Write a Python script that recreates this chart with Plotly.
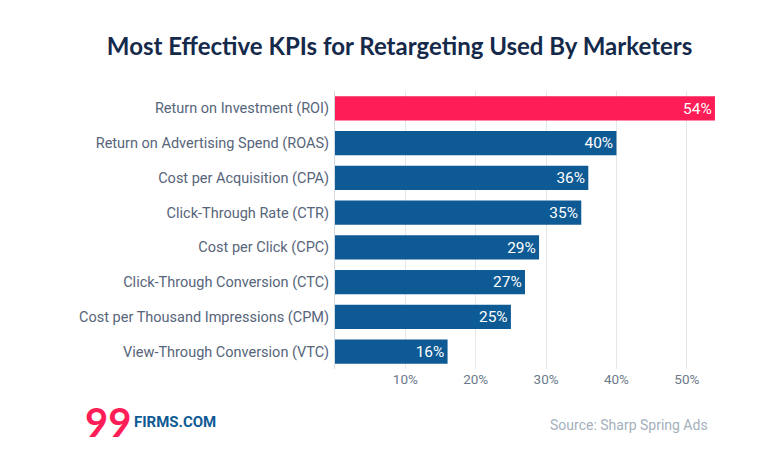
import plotly.graph_objects as go

categories = [
    "Return on Investment (ROI)",
    "Return on Advertising Spend (ROAS)",
    "Cost per Acquisition (CPA)",
    "Click-Through Rate (CTR)",
    "Cost per Click (CPC)",
    "Click-Through Conversion (CTC)",
    "Cost per Thousand Impressions (CPM)",
    "View-Through Conversion (VTC)",
]
values = [54, 40, 36, 35, 29, 27, 25, 16]
tick_vals = [10, 20, 30, 40, 50]
tick_text = ["10%", "20%", "30%", "40%", "50%"]

PINK = "#FF1D58"
BLUE = "#0E5A94"
colors = [PINK if v == max(values) else BLUE for v in values]

fig = go.Figure(go.Bar(
    y=categories,
    x=values,
    orientation="h",
    marker=dict(color=colors, line=dict(width=0)),
    text=[f"{v}%" for v in values],
    textposition="inside",
    insidetextanchor="end",
    textfont=dict(color="white", size=16, family="Roboto"),
    width=0.7,
    cliponaxis=False,
))

fig.update_layout(
    width=753, height=458,
    margin=dict(l=327, r=39, t=83, b=97),
    paper_bgcolor="white", plot_bgcolor="white",
    showlegend=False,
    title=dict(
        text="Most Effective KPIs for Retargeting Used By Marketers",
        x=0.52, xanchor="center", y=0.915, yanchor="middle",
        font=dict(family="Lato", size=24, color="#15294A", weight="bold"),
    ),
    xaxis=dict(
        range=[0, 55], tickvals=tick_vals, ticktext=tick_text,
        showgrid=True, gridcolor="#E3E6EA", gridwidth=1,
        zeroline=False, showline=False, automargin=False,
        tickfont=dict(family="Roboto", size=13.5, color="#6B7A8A"),
        ticks="", ticklabelstandoff=0,
    ),
    yaxis=dict(
        autorange="reversed", categoryorder="array", categoryarray=categories,
        showgrid=False, zeroline=False, automargin=False,
        showline=True, linecolor="#D5DAE0", linewidth=1,
        tickfont=dict(family="Roboto", size=14.5, color="#56657A"),
        ticks="", ticklabelstandoff=2,
    ),
    uniformtext=dict(mode=False),
)

fig.add_annotation(
    text="<b>99</b>", xref="paper", yref="paper", x=-0.65, y=-0.19,
    xanchor="left", yanchor="middle", showarrow=False,
    font=dict(family="Lato", size=40, color=PINK),
)
fig.add_annotation(
    text="<b>FIRMS.COM</b>", xref="paper", yref="paper", x=-0.525, y=-0.19,
    xanchor="left", yanchor="middle", showarrow=False,
    font=dict(family="Roboto", size=15, color=BLUE),
)
fig.add_annotation(
    text="Source: Sharp Spring Ads", xref="paper", yref="paper", x=0.969, y=-0.2,
    xanchor="right", yanchor="middle", showarrow=False,
    font=dict(family="Roboto", size=14, color="#A4B0BC"),
)

fig.write_html("out.html")
